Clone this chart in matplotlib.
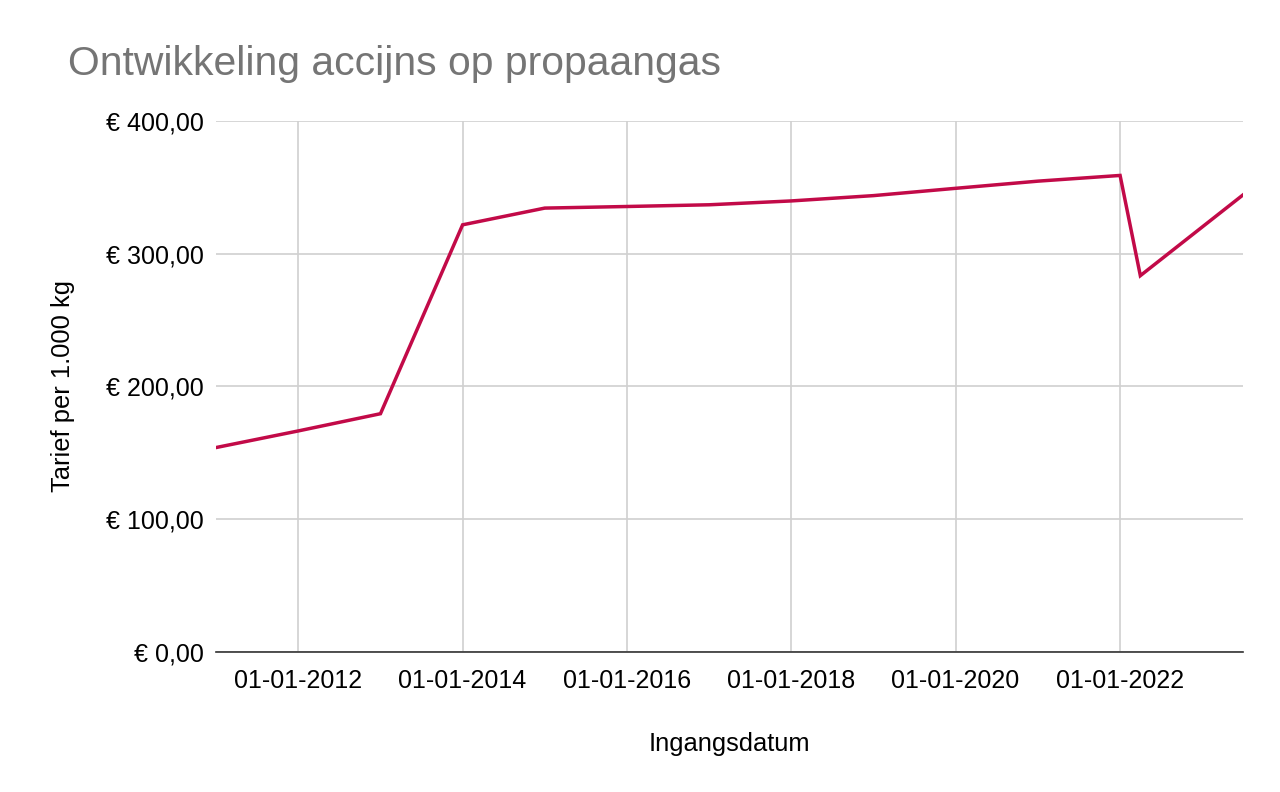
import datetime as dt
import matplotlib
matplotlib.use("Agg")
import matplotlib.pyplot as plt
import matplotlib.dates as mdates
from matplotlib.ticker import FuncFormatter

# Data: ingangsdatum en tarief per 1.000 kg
datums = ["2011-01-01", "2012-01-01", "2013-01-01", "2014-01-01", "2015-01-01",
          "2016-01-01", "2017-01-01", "2018-01-01", "2019-01-01", "2020-01-01",
          "2021-01-01", "2022-01-01", "2022-04-01", "2023-07-01"]
tarief = [154.0, 166.5, 179.5, 321.8, 334.4, 335.6, 336.9, 339.8, 343.8, 349.3,
          354.7, 359.0, 283.5, 344.3]

x = [dt.datetime.strptime(d, "%Y-%m-%d") for d in datums]

plt.rcParams['font.family'] = ['Liberation Sans', 'DejaVu Sans']

fig = plt.figure(figsize=(12.8, 7.92), dpi=100)
ax = fig.add_axes([0.16875, 0.1768, 0.8023, 0.6704])

ax.plot(x, tarief, color='#c20a48', linewidth=2.5, solid_joinstyle='miter')

ax.set_xlim(x[0], x[-1])
ax.set_ylim(0, 400)
ax.set_yticks([0, 100, 200, 300, 400])
ax.yaxis.set_major_formatter(FuncFormatter(lambda v, p: "€ %s" % f"{v:.2f}".replace(".", ",")))

ax.xaxis.set_major_locator(mdates.YearLocator(2))
ax.xaxis.set_major_formatter(mdates.DateFormatter("%d-%m-%Y"))

ax.grid(True, color='#d0d0d0', linewidth=1.2)
ax.set_axisbelow(True)
for s in ['top', 'right', 'left']:
    ax.spines[s].set_visible(False)
ax.spines['bottom'].set_color('#333333')
ax.spines['bottom'].set_linewidth(1.2)
ax.tick_params(length=0, labelsize=18, colors='#000000')
ax.tick_params(axis='y', pad=9)
ax.tick_params(axis='x', pad=12)

ax.set_xlabel("Ingangsdatum", fontsize=18.4, labelpad=28)
ax.set_ylabel("Tarief per 1.000 kg", fontsize=18.4, labelpad=22)

fig.text(68 / 1280, 1 - 64 / 792, "Ontwikkeling accijns op propaangas",
         fontsize=29.4, color='#757575', va='center', ha='left')

fig.savefig("out.png", dpi=100)
